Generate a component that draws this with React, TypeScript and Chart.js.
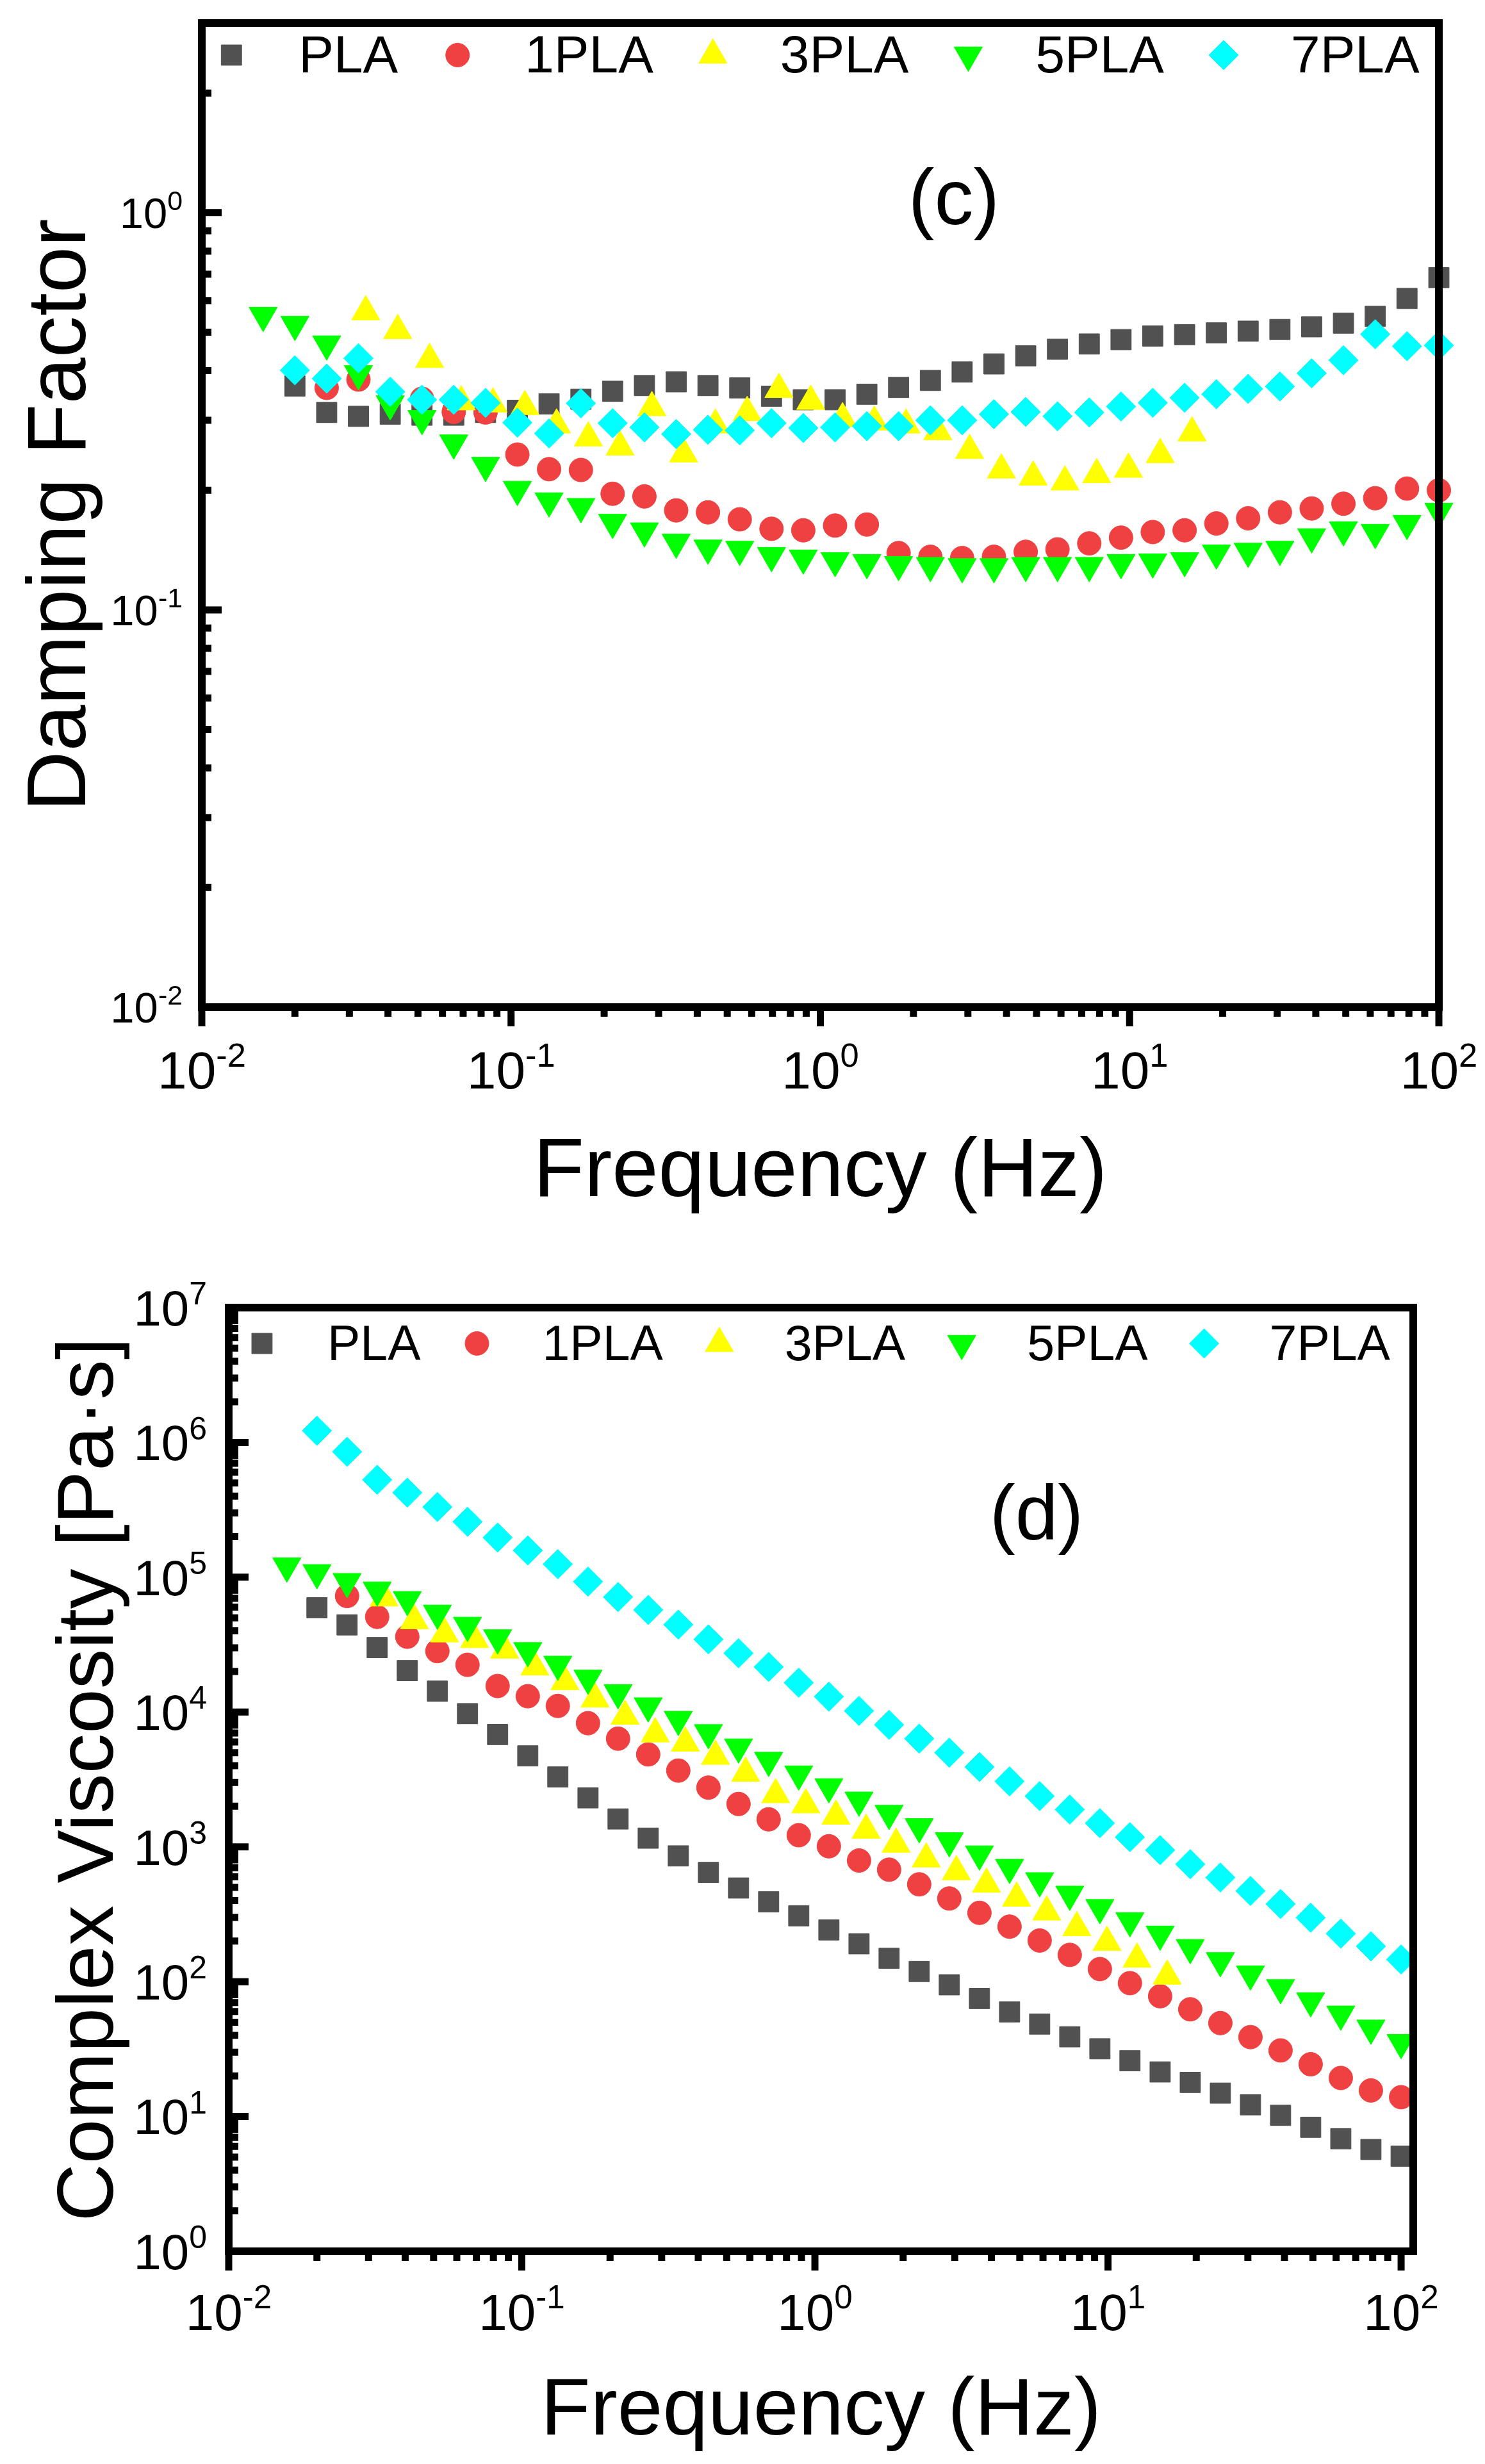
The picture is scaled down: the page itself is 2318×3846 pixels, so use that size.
import { useEffect, useRef } from 'react';
import { Chart, registerables } from 'chart.js';
import { drawPoint } from 'chart.js/helpers';

Chart.register(...registerables);

const FONT = '"Liberation Sans", Arial, Helvetica, sans-serif';

// frequency grid (Hz) shared by PLA, 1PLA, 5PLA and 7PLA
const FREQ = [
  0.01579, 0.02, 0.02534, 0.0321, 0.04067, 0.05152, 0.06527, 0.08269, 0.1048, 0.1327,
  0.1682, 0.213, 0.2699, 0.3419, 0.4332, 0.5488, 0.6952, 0.8808, 1.116, 1.414,
  1.791, 2.269, 2.874, 3.642, 4.614, 5.845, 7.405, 9.381, 11.88, 15.06,
  19.08, 24.17, 30.62, 38.79, 49.14, 62.26, 78.87, 100,
];

// 3PLA sits on a slightly shifted grid and stops near 16 Hz
const FREQ_3PLA = [
  0.0339, 0.043, 0.0545, 0.069, 0.0874, 0.1108, 0.1403, 0.1778, 0.2251, 0.2853,
  0.3614, 0.4579, 0.5801, 0.7348, 0.931, 1.18, 1.495, 1.893, 2.398, 3.038,
  3.85, 4.877, 6.178, 7.827, 9.916, 12.56, 15.92,
];

// (c) damping factor, aligned with FREQ
const TAN_PLA = [
  null, 0.366, 0.314, 0.307, 0.311, 0.309, 0.309, 0.314, 0.318, 0.33,
  0.339, 0.355, 0.367, 0.375, 0.367, 0.362, 0.345, 0.338, 0.338, 0.349,
  0.363, 0.378, 0.397, 0.416, 0.436, 0.453, 0.467, 0.479, 0.489, 0.493,
  0.498, 0.503, 0.508, 0.516, 0.527, 0.548, 0.608, 0.686,
];
const TAN_1PLA = [
  null, null, 0.362, 0.38, 0.345, 0.34, 0.315, 0.314, 0.246, 0.226,
  0.225, 0.196, 0.193, 0.178, 0.176, 0.169, 0.16, 0.1586, 0.163, 0.164,
  0.139, 0.136, 0.135, 0.136, 0.14, 0.142, 0.147, 0.152, 0.157, 0.1586,
  0.165, 0.17, 0.176, 0.18, 0.185, 0.191, 0.202, 0.2,
];
const TAN_3PLA = [
  0.563, 0.505, 0.427, 0.334, 0.33, 0.325, 0.292, 0.271, 0.257, 0.323,
  0.247, 0.292, 0.314, 0.359, 0.335, 0.303, 0.297, 0.292, 0.281, 0.252,
  0.225, 0.216, 0.21, 0.219, 0.226, 0.246, 0.279,
];
const TAN_5PLA = [
  0.551, 0.523, 0.467, 0.393, 0.33, 0.303, 0.263, 0.231, 0.201, 0.188,
  0.182, 0.166, 0.158, 0.148, 0.143, 0.142, 0.137, 0.135, 0.133, 0.1315,
  0.13, 0.1293, 0.1284, 0.1284, 0.1293, 0.1293, 0.1293, 0.1315, 0.132, 0.133,
  0.139, 0.1404, 0.142, 0.1527, 0.159, 0.1566, 0.165, 0.177,
];
const TAN_7PLA = [
  null, 0.401, 0.382, 0.43, 0.354, 0.338, 0.338, 0.332, 0.296, 0.278,
  0.331, 0.295, 0.288, 0.277, 0.284, 0.283, 0.295, 0.287, 0.288, 0.29,
  0.29, 0.3, 0.3, 0.311, 0.315, 0.307, 0.314, 0.325, 0.332, 0.342,
  0.349, 0.36, 0.365, 0.394, 0.425, 0.494, 0.461, 0.463,
];

// (d) complex viscosity in Pa·s, aligned with FREQ
const ETA_PLA = [
  null, 59400, 44300, 30100, 20300, 14300, 9730, 6810, 4730, 3300,
  2310, 1610, 1160, 857, 646, 495, 391, 308, 242, 191,
  149, 119, 94.8, 75, 59.7, 48.5, 39, 31.8, 25.9, 21.4,
  17.9, 14.9, 12.2, 10.2, 8.32, 6.84, 5.69, 5.08,
];
const ETA_1PLA = [
  null, null, 72600, 50800, 36200, 28300, 22400, 15600, 13100, 11100,
  8270, 6350, 4850, 3680, 2750, 2080, 1600, 1220, 1010, 792,
  677, 527, 414, 324, 256, 202, 158, 124, 97.5, 78,
  62.4, 49.3, 38.8, 30.9, 24.4, 19.3, 15.6, 13.9,
];
const ETA_3PLA = [
  70300, 47600, 38000, 34500, 28800, 21600, 16800, 12500, 9310, 6890,
  5890, 4700, 3520, 2440, 2050, 1690, 1330, 1047, 814, 655,
  529, 417, 329, 252, 196, 147, 110,
];
const ETA_5PLA = [
  121000, 108000, 92800, 80300, 68200, 54100, 44000, 35500, 28500, 22600,
  17800, 13900, 11100, 8810, 7020, 5500, 4380, 3470, 2790, 2220,
  1770, 1410, 1110, 885, 704, 560, 445, 354, 283, 225,
  179, 143, 114, 90.2, 72.1, 57.4, 45.2, 35.3,
];
const ETA_7PLA = [
  null, 1220000, 852000, 528000, 424000, 332000, 258000, 197000, 158000, 125000,
  92800, 71300, 57200, 44500, 34600, 27300, 21600, 16500, 13000, 10200,
  8030, 6350, 5000, 3910, 3060, 2380, 1890, 1500, 1180, 946,
  744, 592, 471, 377, 298, 227, 183, 146,
];

const LABELS = ['PLA', '1PLA', '3PLA', '5PLA', '7PLA'];
const X_TITLE = 'Frequency (Hz)';

// marker look per sample, same order as LABELS
const MARKERS = [
  { color: '#515151', style: 'rect', rotation: 0, radius: 22.5 },
  { color: '#EF4141', style: 'circle', rotation: 0, radius: 18.5 },
  { color: '#FFFF00', style: 'triangle', rotation: 0, radius: 25.5 },
  { color: '#00FF00', style: 'triangle', rotation: 180, radius: 25.5 },
  { color: '#00FFFF', style: 'rectRot', rotation: 0, radius: 23 },
];

function toPoints(freq: number[], vals: (number | null)[]) {
  const pts: { x: number; y: number }[] = [];
  freq.forEach((f, i) => {
    const v = vals[i];
    if (v != null) pts.push({ x: f, y: v });
  });
  return pts;
}

function buildDatasets(series: { x: number; y: number }[][]) {
  return series.map((data, i) => ({
    label: LABELS[i],
    data,
    showLine: false,
    pointStyle: MARKERS[i].style,
    pointRotation: MARKERS[i].rotation,
    pointRadius: MARKERS[i].radius,
    pointBorderWidth: 1,
    backgroundColor: MARKERS[i].color,
    borderColor: MARKERS[i].color,
    clip: false,
    order: series.length - i, // later samples sit on top
  }));
}

function logTicks(min: number, max: number) {
  const out: { v: number; major: boolean }[] = [];
  for (let e = Math.floor(Math.log10(min)); e <= Math.ceil(Math.log10(max)); e++) {
    for (let k = 1; k <= 9; k++) {
      const v = k * Math.pow(10, e);
      if (v >= min * 0.999 && v <= max * 1.001) out.push({ v, major: k === 1 });
    }
  }
  return out;
}

// "10" with a raised exponent, like Origin's tick labels
function drawPower(ctx: CanvasRenderingContext2D, exp: number, x: number, baseline: number, size: number, align: 'center' | 'right') {
  const supSize = size * 0.64;
  const sup = String(exp);
  ctx.font = `${size}px ${FONT}`;
  const wBase = ctx.measureText('10').width;
  ctx.font = `${supSize}px ${FONT}`;
  const wSup = ctx.measureText(sup).width;
  const total = wBase + wSup;
  const x0 = align === 'center' ? x - total / 2 : x - total;
  ctx.textAlign = 'left';
  ctx.textBaseline = 'alphabetic';
  ctx.font = `${size}px ${FONT}`;
  ctx.fillText('10', x0, baseline);
  ctx.font = `${supSize}px ${FONT}`;
  ctx.fillText(sup, x0 + wBase, baseline - size * 0.42);
}

interface PanelCfg {
  padding: { left: number; right: number; top: number; bottom: number };
  xMax: number;
  yMin: number;
  yMax: number;
  xTickFont: number;
  xTickBaseline: number;
  yTickFont: number;
  yTickGap: number;
  xTitleFont: number;
  xTitleBaseline: number;
  yTitle: string;
  yTitleFont: number;
  yTitleX: number;
  tag: string;
  tagFont: number;
  tagX: number;
  tagY: number;
  legendFont: number;
  legendDy: number;
  legendTextGap: number;
  legendItemGap: number;
}

function makeFramePlugin(cfg: PanelCfg) {
  return {
    id: 'originFrame',
    afterDraw(chart: Chart) {
      const { ctx, chartArea: a } = chart;
      const xs: any = chart.scales.x;
      const ys: any = chart.scales.y;
      ctx.save();
      ctx.strokeStyle = '#000';
      ctx.fillStyle = '#000';
      ctx.lineCap = 'butt';

      // x ticks point out of the box, y ticks point in
      ctx.lineWidth = 11;
      ctx.beginPath();
      const xt = logTicks(xs.min, xs.max);
      const yt = logTicks(ys.min, ys.max);
      for (const t of xt) {
        const x = xs.getPixelForValue(t.v);
        ctx.moveTo(x, a.bottom);
        ctx.lineTo(x, a.bottom + (t.major ? 30 : 15));
      }
      for (const t of yt) {
        const y = ys.getPixelForValue(t.v);
        ctx.moveTo(a.left, y);
        ctx.lineTo(a.left + (t.major ? 31 : 15), y);
      }
      ctx.stroke();

      ctx.lineWidth = 12;
      ctx.lineJoin = 'miter';
      ctx.strokeRect(a.left, a.top, a.right - a.left, a.bottom - a.top);

      for (const t of xt) {
        if (!t.major) continue;
        drawPower(ctx, Math.round(Math.log10(t.v)), xs.getPixelForValue(t.v), a.bottom + cfg.xTickBaseline, cfg.xTickFont, 'center');
      }
      for (const t of yt) {
        if (!t.major) continue;
        const y = ys.getPixelForValue(t.v);
        drawPower(ctx, Math.round(Math.log10(t.v)), a.left - cfg.yTickGap, y + cfg.yTickFont * 0.358, cfg.yTickFont, 'right');
      }

      // axis titles
      ctx.textAlign = 'center';
      ctx.textBaseline = 'alphabetic';
      ctx.font = `${cfg.xTitleFont}px ${FONT}`;
      ctx.fillText(X_TITLE, (a.left + a.right) / 2, a.bottom + cfg.xTitleBaseline);
      ctx.save();
      ctx.translate(cfg.yTitleX, (a.top + a.bottom) / 2);
      ctx.rotate(-Math.PI / 2);
      ctx.font = `${cfg.yTitleFont}px ${FONT}`;
      ctx.fillText(cfg.yTitle, 0, 0);
      ctx.restore();

      ctx.font = `${cfg.tagFont}px ${FONT}`;
      ctx.fillText(cfg.tag, cfg.tagX, cfg.tagY);

      // legend: one row inside the frame, centred on the plot
      const ds = chart.data.datasets as any[];
      ctx.font = `${cfg.legendFont}px ${FONT}`;
      const widths = ds.map((d) => ctx.measureText(d.label).width);
      const firstHalf = ds[0].pointRadius * Math.SQRT1_2;
      let total = firstHalf;
      widths.forEach((w, i) => {
        total += cfg.legendTextGap + w + (i < ds.length - 1 ? cfg.legendItemGap : 0);
      });
      let x = (a.left + a.right) / 2 - total / 2 + firstHalf;
      const yc = a.top + cfg.legendDy;
      ds.forEach((d, i) => {
        ctx.fillStyle = d.backgroundColor;
        ctx.strokeStyle = d.borderColor;
        ctx.lineWidth = 1;
        drawPoint(ctx, { pointStyle: d.pointStyle, rotation: d.pointRotation, radius: d.pointRadius, borderWidth: 1 } as any, x, yc);
        ctx.fillStyle = '#000';
        ctx.textAlign = 'left';
        ctx.font = `${cfg.legendFont}px ${FONT}`;
        ctx.fillText(d.label, x + cfg.legendTextGap, yc + cfg.legendFont * 0.358 - 2);
        x += cfg.legendTextGap + widths[i] + cfg.legendItemGap;
      });

      ctx.restore();
    },
  };
}

const DAMPING_CFG: PanelCfg = {
  padding: { left: 315, right: 72, top: 36, bottom: 348 },
  xMax: 100,
  yMin: 0.01,
  yMax: 3,
  xTickFont: 82,
  xTickBaseline: 127,
  yTickFont: 67,
  yTickGap: 30,
  xTitleFont: 130,
  xTitleBaseline: 295,
  yTitle: 'Damping Factor',
  yTitleFont: 130,
  yTitleX: 133,
  tag: '(c)',
  tagFont: 122,
  tagX: 1489,
  tagY: 350,
  legendFont: 82,
  legendDy: 50,
  legendTextGap: 105,
  legendItemGap: 93,
};

const VISCOSITY_CFG: PanelCfg = {
  padding: { left: 357, right: 112, top: 121, bottom: 332 },
  xMax: 110,
  yMin: 1,
  yMax: 1e7,
  xTickFont: 80,
  xTickBaseline: 123,
  yTickFont: 78,
  yTickGap: 34,
  xTitleFont: 127,
  xTitleBaseline: 286,
  yTitle: 'Complex Viscosity [Pa·s]',
  yTitleFont: 125,
  yTitleX: 176,
  tag: '(d)',
  tagFont: 120,
  tagX: 1618,
  tagY: 482,
  legendFont: 77,
  legendDy: 56,
  legendTextGap: 102,
  legendItemGap: 88,
};

function Panel({ cfg, series, top, height }: { cfg: PanelCfg; series: { x: number; y: number }[][]; top: number; height: number }) {
  const canvasRef = useRef<HTMLCanvasElement>(null);

  useEffect(() => {
    if (!canvasRef.current) return;
    const chart = new Chart(canvasRef.current, {
      type: 'scatter',
      data: { datasets: buildDatasets(series) as any },
      options: {
        animation: false,
        responsive: true,
        maintainAspectRatio: false,
        events: [],
        layout: { padding: cfg.padding },
        plugins: {
          legend: { display: false },
          tooltip: { enabled: false },
          title: { display: false },
        },
        scales: {
          x: { type: 'logarithmic', min: 0.01, max: cfg.xMax, bounds: 'data', display: false },
          y: { type: 'logarithmic', min: cfg.yMin, max: cfg.yMax, bounds: 'data', display: false },
        },
      },
      plugins: [makeFramePlugin(cfg)],
    });
    return () => { chart.destroy(); };
  }, []);

  return (
    <div style={{ position: 'absolute', left: 0, top, width: 2318, height, background: '#fff' }}>
      <canvas ref={canvasRef} />
    </div>
  );
}

export default function App() {
  const damping = [
    toPoints(FREQ, TAN_PLA),
    toPoints(FREQ, TAN_1PLA),
    toPoints(FREQ_3PLA, TAN_3PLA),
    toPoints(FREQ, TAN_5PLA),
    toPoints(FREQ, TAN_7PLA),
  ];
  const viscosity = [
    toPoints(FREQ, ETA_PLA),
    toPoints(FREQ, ETA_1PLA),
    toPoints(FREQ_3PLA, ETA_3PLA),
    toPoints(FREQ, ETA_5PLA),
    toPoints(FREQ, ETA_7PLA),
  ];
  return (
    <div style={{ position: 'absolute', left: 0, top: 0, width: 2318, height: 3846, background: '#fff' }}>
      <Panel cfg={DAMPING_CFG} series={damping} top={0} height={1920} />
      <Panel cfg={VISCOSITY_CFG} series={viscosity} top={1920} height={1926} />
    </div>
  );
}
